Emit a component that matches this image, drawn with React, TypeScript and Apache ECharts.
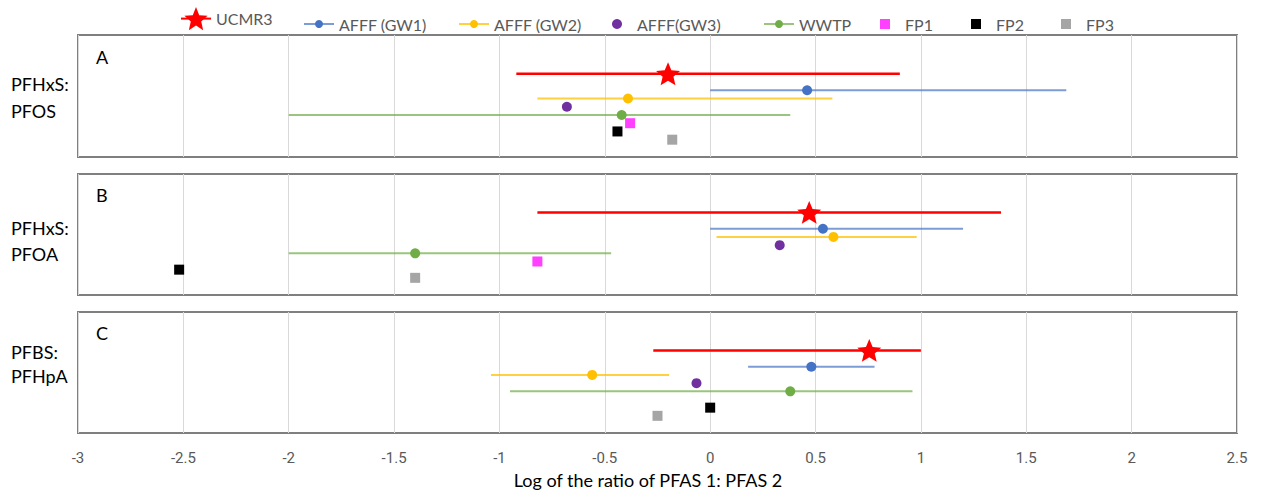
import React, { useEffect, useRef } from 'react';
import * as echarts from 'echarts';

// ---- data ----
const panelLetters = ['A', 'B', 'C'];
const panelLine1 = ['PFHxS:', 'PFHxS:', 'PFBS:'];
const panelLine2 = ['PFOS', 'PFOA', 'PFHpA'];

const xMin = -3;
const xMax = 2.5;
const xStep = 0.5;
const axisTitle = 'Log of the ratio of PFAS 1: PFAS 2';

const seriesNames = ['UCMR3', 'AFFF (GW1)', 'AFFF (GW2)', 'AFFF(GW3)', 'WWTP', 'FP1', 'FP2', 'FP3'];
// row index of each series inside a panel (top to bottom)
const seriesRows = [0, 2, 3, 4, 5, 6, 7, 8];

// ranged series, one value per panel [A, B, C]
const ucmr3Mid = [-0.2, 0.47, 0.755];
const ucmr3Low = [-0.92, -0.82, -0.27];
const ucmr3High = [0.9, 1.38, 1.0];
const gw1Mid = [0.46, 0.535, 0.48];
const gw1Low = [0.0, 0.0, 0.18];
const gw1High = [1.69, 1.2, 0.78];
const gw2Mid = [-0.39, 0.585, -0.56];
const gw2Low = [-0.82, 0.03, -1.04];
const gw2High = [0.58, 0.98, -0.195];
const wwtpMid = [-0.42, -1.4, 0.38];
const wwtpLow = [-2.0, -2.0, -0.95];
const wwtpHigh = [0.38, -0.47, 0.96];
// single points
const gw3Val = [-0.68, 0.33, -0.065];
const fp1Val: (number | null)[] = [-0.38, -0.82, null];
const fp2Val = [-0.44, -2.52, 0.0];
const fp3Val = [-0.18, -1.4, -0.25];

// ---- styling ----
const FONT = 'Lato, "Open Sans", sans-serif';
const colors = ['#FF0000', '#4472C4', '#FFC000', '#7030A0', '#70AD47', '#FF40FF', '#000000', '#A5A5A5'];
const STAR =
  'path://M0,-10 L2.645,-3.641 L9.511,-3.09 L4.28,1.391 L5.878,8.09 L0,4.5 L-5.878,8.09 L-4.28,1.391 L-9.511,-3.09 L-2.645,-3.641 Z';
const SQUARE = 'path://M0,0 L10,0 L10,10 L0,10 Z';
const gridTops = [35, 174, 312];
const gridHeights = [122, 121, 121];
const line1Y = [85, 229, 353];
const line2Y = [112, 255, 377];
const letterY = [58, 196, 334];

export default function App() {
  const ref = useRef<HTMLDivElement>(null);
  useEffect(() => {
    if (!ref.current) return;
    const chart = echarts.init(ref.current, undefined, { renderer: 'svg' });

    const ranged = [
      { idx: 0, mid: ucmr3Mid, lo: ucmr3Low, hi: ucmr3High, symbol: STAR, size: 24, width: 2.5, opacity: 1 },
      { idx: 1, mid: gw1Mid, lo: gw1Low, hi: gw1High, symbol: 'circle', size: 10, width: 2, opacity: 0.7 },
      { idx: 2, mid: gw2Mid, lo: gw2Low, hi: gw2High, symbol: 'circle', size: 10, width: 2, opacity: 0.75 },
      { idx: 4, mid: wwtpMid, lo: wwtpLow, hi: wwtpHigh, symbol: 'circle', size: 10, width: 2, opacity: 0.7 },
    ];
    const points = [
      { idx: 3, vals: gw3Val, symbol: 'circle', size: 10 },
      { idx: 5, vals: fp1Val, symbol: 'rect', size: 10 },
      { idx: 6, vals: fp2Val, symbol: 'rect', size: 10 },
      { idx: 7, vals: fp3Val, symbol: 'rect', size: 10 },
    ];

    const series: any[] = [];
    for (let p = 0; p < 3; p++) {
      ranged.forEach((r) => {
        const y = seriesRows[r.idx];
        series.push({
          type: 'line',
          name: seriesNames[r.idx],
          xAxisIndex: p,
          yAxisIndex: p,
          symbol: r.symbol,
          symbolSize: r.size,
          symbolKeepAspect: true,
          showSymbol: true,
          lineStyle: { color: colors[r.idx], width: r.width, opacity: r.opacity },
          itemStyle: { color: colors[r.idx], opacity: 1 },
          z: 2,
          data: [
            { value: [r.lo[p], y], symbol: 'none' },
            { value: [r.mid[p], y] },
            { value: [r.hi[p], y], symbol: 'none' },
          ],
        });
      });
      points.forEach((q) => {
        const v = q.vals[p];
        series.push({
          type: 'scatter',
          name: seriesNames[q.idx],
          xAxisIndex: p,
          yAxisIndex: p,
          symbol: q.symbol,
          symbolSize: q.size,
          itemStyle: { color: colors[q.idx], opacity: 1 },
          z: 3,
          data: v === null ? [] : [[v, seriesRows[q.idx]]],
        });
      });
    }

    const legendLefts = [180, 303, 458, 612, 763, 880, 971, 1061];
    const legends = seriesNames.map((name, i) => {
      const big = i === 0;
      const item: any = { name };
      if (i >= 5) item.icon = SQUARE;
      return {
        data: [item],
        left: legendLefts[i],
        top: big ? 7 : 16,
        itemWidth: 30,
        itemHeight: big ? 29 : 10,
        itemGap: 0,
        padding: 0,
        selectedMode: false,
        symbolKeepAspect: true,
        textStyle: { color: '#595959', fontSize: 16, fontFamily: FONT },
      };
    });

    const graphic: any[] = [];
    for (let p = 0; p < 3; p++) {
      graphic.push({
        type: 'text',
        left: 11,
        top: line1Y[p] - 10,
        style: { text: panelLine1[p], fontSize: 18, fontFamily: FONT, fill: '#000' },
      });
      graphic.push({
        type: 'text',
        left: 11,
        top: line2Y[p] - 10,
        style: { text: panelLine2[p], fontSize: 18, fontFamily: FONT, fill: '#000' },
      });
      graphic.push({
        type: 'text',
        left: 96,
        top: letterY[p] - 10,
        style: { text: panelLetters[p], fontSize: 18, fontFamily: FONT, fill: '#000' },
      });
    }
    graphic.push({
      type: 'text',
      x: 648,
      y: 480,
      style: {
        text: axisTitle,
        fontSize: 18,
        fontFamily: FONT,
        fill: '#000',
        align: 'center',
        verticalAlign: 'middle',
      },
    });

    chart.setOption({
      animation: false,
      backgroundColor: '#fff',
      legend: legends,
      grid: gridTops.map((t, i) => ({
        left: 78,
        right: 27,
        top: t,
        height: gridHeights[i],
        show: true,
        borderColor: '#7F7F7F',
        borderWidth: 2,
        backgroundColor: 'transparent',
      })),
      xAxis: [0, 1, 2].map((i) => ({
        type: 'value',
        gridIndex: i,
        min: xMin,
        max: xMax,
        interval: xStep,
        axisLine: { show: false },
        axisTick: { show: false },
        splitLine: { show: true, lineStyle: { color: '#D9D9D9', width: 1 } },
        axisLabel: {
          show: i === 2,
          color: '#595959',
          fontSize: 15,
          fontFamily: 'Roboto, sans-serif',
          margin: 17,
        },
      })),
      yAxis: [0, 1, 2].map((i) => ({
        type: 'value',
        gridIndex: i,
        min: -4.7,
        max: 10.1,
        inverse: true,
        show: false,
        splitLine: { show: false },
      })),
      graphic,
      series,
    });
    return () => chart.dispose();
  }, []);
  return (
    <div
      ref={ref}
      style={{ position: 'fixed', left: 0, top: 0, width: 1264, height: 491 }}
    />
  );
}
